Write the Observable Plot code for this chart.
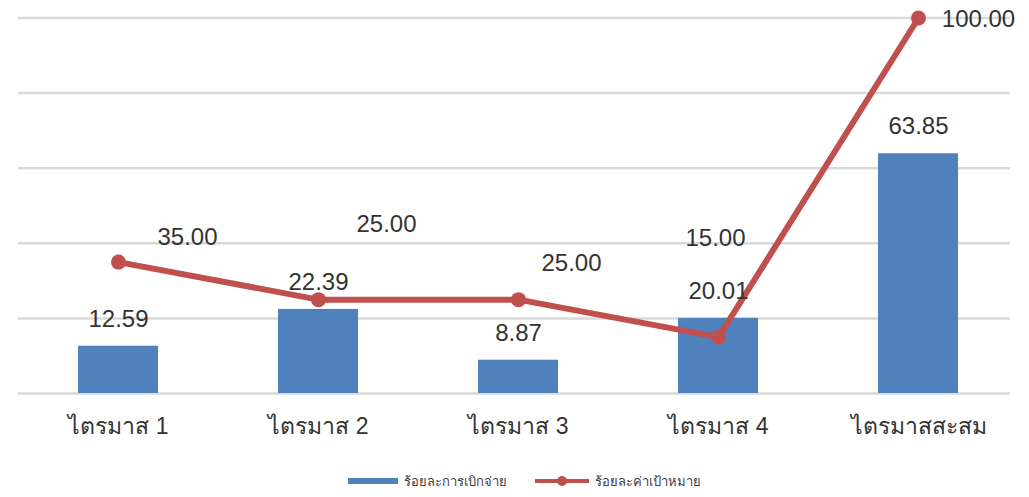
<!DOCTYPE html>
<html>
<head>
<meta charset="utf-8">
<script src="https://cdn.jsdelivr.net/npm/d3@7"></script>
<script src="https://cdn.jsdelivr.net/npm/@observablehq/plot@0.6"></script>
<style>
  html, body { margin: 0; padding: 0; background: #fff; }
  #chart svg { display: block; }
  .legend { display: flex; justify-content: center; align-items: center; height: 26px; margin-top: 13px; padding-left: 19px;
    font-family: "Liberation Sans", sans-serif; font-size: 13px; color: #404040; }
  .legend .item { display: flex; align-items: center; margin: 0 14px; }
  .legend .sw { margin-right: 6px; }
</style>
</head>
<body>
<div id="chart"></div>
<script>
const categories = ["ไตรมาส 1", "ไตรมาส 2", "ไตรมาส 3", "ไตรมาส 4", "ไตรมาสสะสม"];
const disbursed = [12.59, 22.39, 8.87, 20.01, 63.85];
const target = [35.00, 25.00, 25.00, 15.00, 100.00];
const seriesNames = ["ร้อยละการเบิกจ่าย", "ร้อยละค่าเป้าหมาย"];
const gridTicks = [0, 20, 40, 60, 80, 100];

const blue = "#4f81bd", red = "#c0504d";
const font = "'Liberation Sans', sans-serif";

const bars = categories.map((c, i) => ({cat: c, v: disbursed[i]}));
const pts = categories.map((c, i) => ({cat: c, v: target[i]}));

// offsets of the line value labels as placed in the original
const lineLabelOffsets = [[69, -25], [68, -75], [53, -36], [-3, -99], [60, 1]];

const plot = Plot.plot({
  width: 1029,
  height: 455,
  marginLeft: 18,
  marginRight: 19,
  marginTop: 17.5,
  marginBottom: 62,
  style: {fontFamily: font, background: "#fff"},
  x: {domain: categories, range: [18, 1018], paddingInner: 0.6, paddingOuter: 0.3, label: null},
  y: {domain: [0, 100], label: null, axis: null},
  marks: [
    Plot.ruleY(gridTicks, {stroke: "#d9d9d9", strokeWidth: 2.5}),
    Plot.barY(bars, {x: "cat", y: "v", fill: blue}),
    Plot.line(pts, {x: "cat", y: "v", stroke: red, strokeWidth: 6, strokeLinejoin: "round"}),
    Plot.dot(pts, {x: "cat", y: "v", fill: red, r: 7.5}),
    Plot.text(bars, {x: "cat", y: "v", text: d => d.v.toFixed(2), dy: -27, fontSize: 24, fill: "#333", lineAnchor: "middle"}),
    ...pts.map((d, i) => Plot.text([d], {x: "cat", y: "v", text: p => p.v.toFixed(2), dx: lineLabelOffsets[i][0], dy: lineLabelOffsets[i][1], fontSize: 24, fill: "#333", lineAnchor: "middle"})),
    Plot.axisX({tickSize: 0, tickPadding: 24, fontSize: 23, color: "#333", label: null})
  ]
});
document.getElementById("chart").appendChild(plot);

const legend = document.createElement("div");
legend.className = "legend";
legend.innerHTML = `
  <div class="item"><svg class="sw" width="50" height="8"><rect x="0" y="1" width="50" height="6" fill="${blue}"/></svg><span>${seriesNames[0]}</span></div>
  <div class="item"><svg class="sw" width="54" height="14"><line x1="0" y1="7" x2="54" y2="7" stroke="${red}" stroke-width="4"/><circle cx="27" cy="7" r="5" fill="${red}"/></svg><span>${seriesNames[1]}</span></div>`;
document.body.appendChild(legend);
</script>
</body>
</html>
